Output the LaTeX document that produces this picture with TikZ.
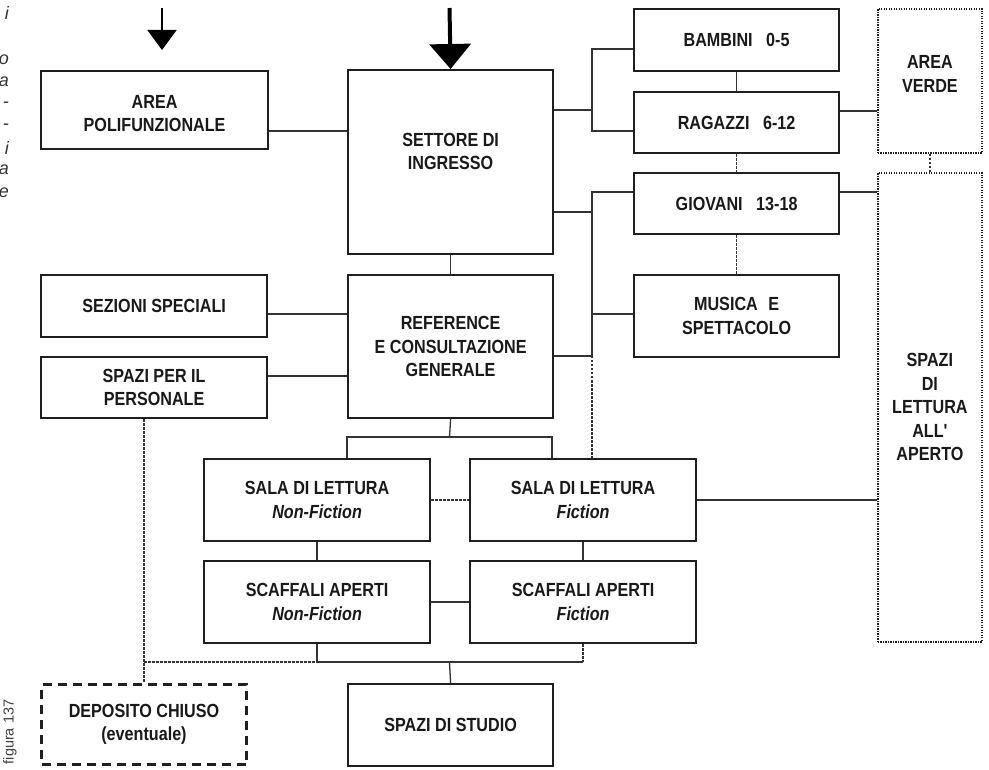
\documentclass[tikz,border=0pt]{standalone}
\usepackage{fontspec}
\setmainfont{Liberation Sans}
\newfontfamily\boxfont{Liberation Sans}[FakeStretch=0.85]
\usetikzlibrary{arrows.meta}
% shift the printed text of a box without changing its size
\newcommand\liftby[2]{\raisebox{#1}[\height][\depth]{\begin{tabular}{@{}c@{}}#2\end{tabular}}}

\begin{document}
\begin{tikzpicture}[x=1pt,y=-1pt,
  box/.style={draw=black!88, line width=2.2pt, anchor=north west, inner sep=0pt,
    align=center, text=black!90,
    font=\boxfont\bfseries\fontsize{19}{23.5}\selectfont},
  sz/.style 2 args={minimum width=#1pt, minimum height=#2pt},
  dotbox/.style={box, line width=1.8pt, dash pattern=on 1.2pt off 1.3pt},
  dashbox/.style={box, line width=3pt, dash pattern=on 9pt off 6pt},
  conn/.style={draw=black!80, line width=1.3pt},
  dconn/.style={conn, dash pattern=on 2.5pt off 1.5pt},
  entry/.style={draw=black, line width=2pt, -{Triangle[width=29pt,length=20pt]}},
  bigentry/.style={draw=black, line width=4pt, -{Triangle[width=41pt,length=25pt]}},
  frag/.style={anchor=east, inner sep=0pt, text=black!80,
    font=\itshape\fontsize{18}{18}\selectfont},
]
\useasboundingbox (0,0) rectangle (989,770);

% caption fragments from the neighbouring column
\node[frag] (f1) at (9,13)  {i};
\node[frag] (f2) at (9,60)  {o};
\node[frag] (f3) at (9,82)  {a};
\node[frag] (f4) at (9,105) {-};
\node[frag] (f5) at (9,127) {-};
\node[frag] (f6) at (9,148) {i};
\node[frag] (f7) at (9,170) {a};
\node[frag] (f8) at (9,193) {e};

\node[rotate=90, inner sep=0pt, text=black!75, font=\fontsize{14.5}{14.5}\selectfont]
  (fig) at (10,732) {figura 137};

% boxes
\node[box, sz={227}{78}]  (poli)   at (40,70)   {\liftby{-5pt}{AREA\\POLIFUNZIONALE}};
\node[box, sz={205}{184}] (sett)   at (347,69)  {\liftby{9pt}{SETTORE DI\\INGRESSO}};
\node[box, sz={205}{62}]  (bamb)   at (633,8)   {BAMBINI\hspace{9pt} 0-5};
\node[box, sz={205}{61}]  (raga)   at (633,91)  {RAGAZZI\hspace{9pt} 6-12};
\node[box, sz={205}{61}]  (giov)   at (633,172) {GIOVANI\hspace{9pt} 13-18};
\node[box, sz={205}{82}]  (musi)   at (633,274) {MUSICA\hspace{6pt} E\\SPETTACOLO};
\node[dotbox, sz={104}{144}] (verde)  at (877,8)   {\liftby{5pt}{AREA\\VERDE}};
\node[dotbox, sz={104}{469}] (aperto) at (877,172) {SPAZI\\DI\\LETTURA\\ALL'\\APERTO};
\node[box, sz={226}{62}]  (sezi)   at (40,274)  {SEZIONI SPECIALI};
\node[box, sz={226}{61}]  (pers)   at (40,356)  {SPAZI PER IL\\PERSONALE};
\node[box, sz={205}{143}] (refe)   at (347,274) {REFERENCE\\E CONSULTAZIONE\\GENERALE};
\node[box, sz={226}{82}]  (salanf) at (203,458) {SALA DI LETTURA\\\itshape Non-Fiction};
\node[box, sz={226}{82}]  (salaf)  at (469,458) {SALA DI LETTURA\\\itshape Fiction};
\node[box, sz={226}{82}]  (scafnf) at (203,560) {SCAFFALI APERTI\\\itshape Non-Fiction};
\node[box, sz={226}{82}]  (scaff)  at (469,560) {SCAFFALI APERTI\\\itshape Fiction};
\node[box, sz={205}{82}]  (studio) at (347,683) {SPAZI DI STUDIO};
\node[dashbox, sz={205}{80}] (depo) at (40,683) {DEPOSITO CHIUSO\\(eventuale)};

% entrances
\coordinate (inA) at (162,8);
\coordinate (inAend) at (162,50);
\draw[entry] (inA) -- (inAend);
\coordinate (inB) at (449.5,8);
\draw[bigentry] (inB) -- (sett.north);

% junction points
\coordinate (jYoung) at (592,110);
\coordinate (jTeen) at (592,212);
\coordinate (jRef) at (449.5,437);
\coordinate (jBot) at (449.5,662);

% entrance area links
\draw[conn] (poli.east |- 0,131) -- (sett.west |- 0,131);
\draw[conn] (sett.east |- jYoung) -- (jYoung);
\draw[conn] (bamb.west |- 0,49) -| (592,131) -- (raga.west |- 0,131);
\draw[conn] (bamb.south) -- (raga.north);
\draw[dconn] (raga.south) -- (giov.north);
\draw[dconn] (giov.south) -- (musi.north);
\draw[conn] (raga.east |- 0,111) -- (verde.west |- 0,111);
\draw[dconn] (verde.south) -- (aperto.north);
\draw[conn] (giov.east |- 0,192) -- (aperto.west |- 0,192);

% youth spine
\draw[conn] (sett.east |- jTeen) -- (jTeen);
\draw[conn] (giov.west |- 0,192) -- (592,192) -- (592,356);
\draw[conn] (592,314) -- (musi.west |- 0,314);
\draw[conn] (refe.east |- 0,356) -- (592,356);
\draw[dconn] (592,356) -- (salaf.north -| 592,0);

% reference block
\draw[conn] (sezi.east |- 0,314) -- (refe.west |- 0,314);
\draw[conn] (pers.east |- 0,376) -- (refe.west |- 0,376);
\draw[conn] (sett.south) -- (refe.north);
\draw[conn] (refe.south) -- (jRef);
\draw[conn] (salanf.north -| 347,0) -- (347,437) -- (552,437) -- (salaf.north -| 552,0);

% reading rooms
\draw[dconn] (salanf.east) -- (salaf.west);
\draw[conn] (salanf.south) -- (scafnf.north);
\draw[conn] (salaf.south) -- (scaff.north);
\draw[conn] (scafnf.east) -- (scaff.west);
\draw[conn] (salaf.east) -- (aperto.west |- salaf.east);

% lower links
\draw[conn] (scafnf.south) -- (scafnf.south |- jBot) -- (scaff.south |- jBot);
\draw[dconn] (scaff.south) -- (scaff.south |- jBot);
\draw[conn] (jBot) -- (studio.north);
\draw[dconn] (depo.north |- pers.south) -- (depo.north);
\draw[dconn] (depo.north |- jBot) -- (scafnf.south |- jBot);

\end{tikzpicture}
\end{document}
